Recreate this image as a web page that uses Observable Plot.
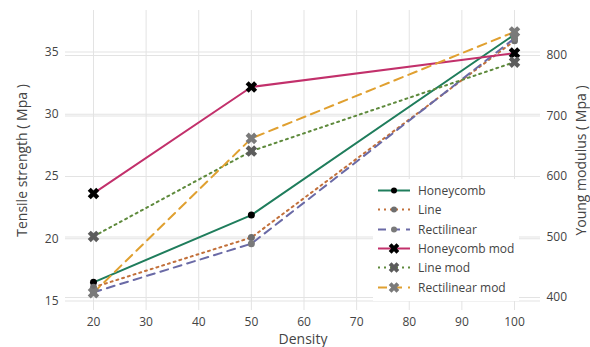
<!DOCTYPE html>
<html><head><meta charset="utf-8">
<script src="https://cdn.jsdelivr.net/npm/d3@7"></script>
<script src="https://cdn.jsdelivr.net/npm/@observablehq/plot@0.6"></script>
<style>
body{margin:0;background:#fff;font-family:"Open Sans",sans-serif;}
#wrap{position:relative;width:590px;height:347px;}
#legend{position:absolute;left:373px;top:179px;width:146px;height:122px;background:#fff;}
.row{position:absolute;left:0;height:19px;display:flex;align-items:center;}
.row span{font-size:12px;color:#444;margin-left:5px;white-space:nowrap;}
</style></head><body><div id="wrap"></div>
<script>
// ---- data ----
const density = [20, 50, 100];
const honeycomb = [16.5, 21.9, 36.4];
const line = [16.1, 20.1, 35.9];
const rectilinear = [15.7, 19.6, 36.1];
const honeycombMod = [572, 748, 804];
const lineMod = [501, 642, 789];
const rectilinearMod = [408, 663, 839];
const xTicks = [20, 30, 40, 50, 60, 70, 80, 90, 100];
const leftTicks = [15, 20, 25, 30, 35];
const rightTicks = [400, 500, 600, 700, 800];
const seriesNames = ["Honeycomb", "Line", "Rectilinear", "Honeycomb mod", "Line mod", "Rectilinear mod"];

// ---- styles ----
const thickX = {
  draw(ctx, size) {
    const a = Math.sqrt(size / Math.PI), w = a * 0.36;
    const pts = [[-w,-a],[w,-a],[w,-w],[a,-w],[a,w],[w,w],[w,a],[-w,a],[-w,w],[-a,w],[-a,-w],[-w,-w]]
      .map(([x, y]) => [(x - y) / Math.SQRT2, (x + y) / Math.SQRT2]);
    ctx.moveTo(pts[0][0], pts[0][1]);
    for (let i = 1; i < pts.length; i++) ctx.lineTo(pts[i][0], pts[i][1]);
    ctx.closePath();
  }
};
const styles = [
  {stroke: "#1f7d5c", dash: null, mfill: "#000", symbol: "circle", r: 3.5, right: false},
  {stroke: "#c2703a", dash: "2,4", mfill: "#6e6e6e", symbol: "circle", r: 3.5, right: false},
  {stroke: "#6a6aa6", dash: "8,6", mfill: "#7a7a7a", symbol: "circle", r: 3.5, right: false},
  {stroke: "#c2306b", dash: null, mfill: "#000", symbol: thickX, r: 6, right: true},
  {stroke: "#5e8a3c", dash: "2,4", mfill: "#5c5c5c", symbol: thickX, r: 6, right: true},
  {stroke: "#e0a030", dash: "9,6", mfill: "#7a7a7a", symbol: thickX, r: 6, right: true}
];
const values = [honeycomb, line, rectilinear, honeycombMod, lineMod, rectilinearMod];

// right axis (Young modulus) mapped onto left scale
const toLeft = R => 15 + (300.5 - (297 - (R - 400) * 0.605)) / 12.45;
const fromLeft = L => 400 + ((297 - 300.5) + (L - 15) * 12.45) / 0.605;

const marks = [
  Plot.gridX(xTicks, {stroke: "#e3e3e3", strokeOpacity: 1}),
  Plot.gridY(leftTicks, {stroke: "#e3e3e3", strokeOpacity: 1}),
  Plot.gridY(rightTicks.map(toLeft), {stroke: "#e3e3e3", strokeOpacity: 1}),
  Plot.axisX(xTicks, {tickSize: 0, tickPadding: 7, fontSize: 12, label: null}),
  Plot.axisY(leftTicks, {anchor: "left", tickSize: 0, tickPadding: 7, fontSize: 12, label: null}),
  Plot.axisY(rightTicks.map(toLeft), {anchor: "right", tickSize: 0, tickPadding: 6, fontSize: 12, label: null,
    tickFormat: d => String(Math.round(fromLeft(d)))}),
  Plot.text(["Density"], {text: d => d, frameAnchor: "bottom", dy: 29, fontSize: 14, textAnchor: "middle", lineAnchor: "middle"}),
  Plot.text(["Tensile strength ( Mpa )"], {text: d => d, frameAnchor: "left", dx: -43, rotate: -90, fontSize: 14, textAnchor: "middle", lineAnchor: "middle"}),
  Plot.text(["Young modulus ( Mpa )"], {text: d => d, frameAnchor: "right", dx: 41, rotate: -90, fontSize: 14, textAnchor: "middle", lineAnchor: "middle"})
];
styles.forEach((s, i) => {
  const rows = density.map((d, j) => ({x: d, y: s.right ? toLeft(values[i][j]) : values[i][j]}));
  marks.push(Plot.line(rows, {x: "x", y: "y", stroke: s.stroke, strokeWidth: 2, strokeDasharray: s.dash}));
  marks.push(Plot.dot(rows, {x: "x", y: "y", fill: s.mfill, r: s.r, symbol: s.symbol}));
});

const chart = Plot.plot({
  width: 590, height: 347,
  marginLeft: 65, marginRight: 50, marginTop: 10, marginBottom: 37,
  style: {fontFamily: "'Open Sans', sans-serif", color: "#444", background: "#fff"},
  x: {domain: [14.68, 104.94]},
  y: {domain: [15 - 9.5 / 12.45, 15 + 290.5 / 12.45]},
  marks
});
const wrap = document.getElementById("wrap");
wrap.appendChild(chart);

// legend
const legend = d3.select(wrap).append("div").attr("id", "legend");
seriesNames.forEach((name, i) => {
  const s = styles[i];
  const row = legend.append("div").attr("class", "row").style("top", (2 + i * 19.3) + "px");
  const svg = row.append("svg").attr("width", 40).attr("height", 19);
  svg.append("line").attr("x1", 5).attr("x2", 37).attr("y1", 9.5).attr("y2", 9.5)
    .attr("stroke", s.stroke).attr("stroke-width", 2).attr("stroke-dasharray", s.dash);
  const sym = d3.symbol(s.symbol === "circle" ? d3.symbolCircle : s.symbol, s.symbol === "circle" ? Math.PI * 3 * 3 : Math.PI * 5.5 * 5.5);
  svg.append("path").attr("d", sym()).attr("transform", "translate(21,9.5)").attr("fill", s.mfill);
  row.append("span").text(name);
});
</script>
</body></html>
